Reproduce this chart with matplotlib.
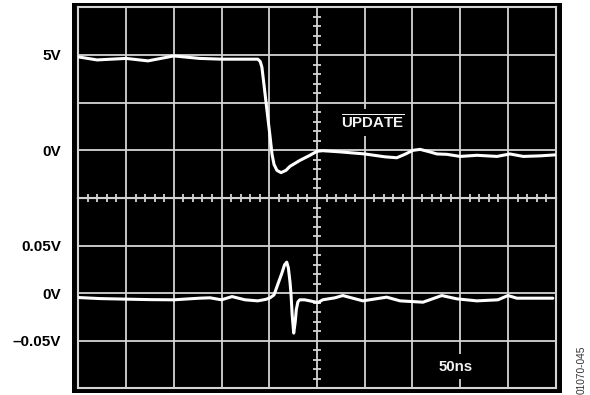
import matplotlib
matplotlib.use("Agg")
import matplotlib.pyplot as plt
from matplotlib.patches import Rectangle
from matplotlib.ticker import FixedLocator, FuncFormatter

plt.rcParams['font.family'] = ['Liberation Sans', 'DejaVu Sans']
plt.rcParams['mathtext.fontset'] = 'custom'
plt.rcParams['mathtext.bf'] = 'Liberation Sans:bold'
plt.rcParams['mathtext.rm'] = 'Liberation Sans'

# Channel 1: UPDATE pin (2.5 V/div), time in ns (50 ns/div)
update_t = [0, 19.6, 50, 73, 100, 127, 150, 169, 188, 190.5, 192.3, 194.4, 196.5,
            198.7, 200.8, 202.9, 205, 208, 212.3, 217.5, 221.7, 232, 242.6, 250,
            256, 274, 300, 321, 333.5, 342, 350.5, 358, 368, 375.6, 386, 400,
            417.5, 438.5, 452, 466, 483.5, 499]
update_v = [4.90, 4.74, 4.82, 4.69, 4.95, 4.82, 4.78, 4.78, 4.78, 4.66, 4.36, 3.47, 2.57,
            1.63, 0.74, -0.21, -0.74, -1.05, -1.17, -1.05, -0.84, -0.53, -0.26, -0.05,
            -0.02, -0.08, -0.19, -0.34, -0.39, -0.21, 0.0, 0.05, -0.08, -0.19, -0.21, -0.32,
            -0.26, -0.32, -0.19, -0.32, -0.29, -0.24]

# Channel 2: output glitch (0.05 V/div)
out_t = [0, 22.7, 50, 75, 100, 127, 138, 150, 161, 174.6, 188, 196.5, 200.8, 205,
         209.5, 213.3, 216, 218.3, 220, 221.7, 222.7, 224, 225.6, 227.2, 228.3, 230,
         232, 237, 242.6, 251, 256, 268.8, 277, 298, 323, 337, 361, 380.7, 396.5,
         417.5, 439.5, 450, 459.3, 497]
out_v = [-0.0046, -0.0057, -0.0063, -0.0068, -0.0070, -0.0053, -0.0049, -0.0070,
         -0.0036, -0.0070, -0.0081, -0.0065, -0.0049, -0.0018, 0.0108, 0.0213, 0.0297,
         0.0326, 0.0266, 0.0119, 0.0003, -0.0228, -0.0420, -0.0301, -0.0175, -0.0091,
         -0.0070, -0.0070, -0.0081, -0.0099, -0.0070, -0.0049, -0.0025, -0.0081,
         -0.0042, -0.0081, -0.0095, -0.0025, -0.0060, -0.0081, -0.0070, -0.0025,
         -0.0053, -0.0053]

top_grid = [-2.5, 0, 2.5, 5, 7.5]
top_labels = {0: "0V", 5: "5V"}
bot_grid = [-0.1, -0.05, 0, 0.05, 0.1]
bot_labels = {-0.05: "–0.05V", 0: "0V", 0.05: "0.05V"}
time_grid = [0, 50, 100, 150, 200, 250, 300, 350, 400, 450, 500]

W, H = 590, 395
fig = plt.figure(figsize=(W / 100, H / 100), dpi=100)
fig.patch.set_facecolor('white')

# black screen behind the graticule
fig.add_artist(Rectangle((72 / W, 1 - 393 / H), 490 / W, 390 / H,
                         transform=fig.transFigure, facecolor='black',
                         edgecolor='none', zorder=0))

left, right = 78.3 / W, 555.7 / W
bottom, top = 1 - 388.3 / H, 1 - 7.3 / H
mid = 1 - 198 / H
ax2 = fig.add_axes([left, bottom, right - left, mid - bottom])
ax1 = fig.add_axes([left, mid, right - left, top - mid])
ax2.set_zorder(1)
ax1.set_zorder(2)

grid_color = '#d4d4d4'

for ax, grid, labels, lim in [(ax1, top_grid, top_labels, (-2.5, 7.5)),
                              (ax2, bot_grid, bot_labels, (-0.1, 0.1))]:
    ax.set_facecolor('black')
    ax.set_xlim(0, 500)
    ax.set_ylim(*lim)
    ax.xaxis.set_major_locator(FixedLocator(time_grid))
    ax.yaxis.set_major_locator(FixedLocator(grid))
    ax.yaxis.set_major_formatter(FuncFormatter(
        lambda v, p, labels=labels: next((s for k, s in labels.items() if abs(k - v) < 1e-9), "")))
    ax.tick_params(axis='x', length=0, labelbottom=False)
    ax.tick_params(axis='y', length=0, pad=12.5)
    for lab in ax.get_yticklabels():
        lab.set_fontsize(11)
        lab.set_fontweight('bold')
    ax.grid(True, color=grid_color, linewidth=1.3)
    for s in ax.spines.values():
        s.set_color(grid_color)
        s.set_linewidth(1.5)

# minor division ticks on the centre lines
minor_t = [t for t in range(0, 501, 10) if t % 50]
ax1.plot(minor_t, [-2.5] * len(minor_t), linestyle='none', marker='|',
         markersize=5.8, markeredgewidth=1.3, color=grid_color, clip_on=False, zorder=3)
minor_v1 = [v / 2 for v in range(-5, 16) if v % 5]
ax1.plot([250] * len(minor_v1), minor_v1, linestyle='none', marker='_',
         markersize=5.8, markeredgewidth=1.3, color=grid_color, zorder=3)
minor_v2 = [v / 100 for v in range(-10, 11) if v % 5]
ax2.plot([250] * len(minor_v2), minor_v2, linestyle='none', marker='_',
         markersize=5.8, markeredgewidth=1.3, color=grid_color, zorder=3)

# traces
ax1.plot(update_t, update_v, color='white', linewidth=2.2,
         solid_joinstyle='round', solid_capstyle='round', zorder=4)
ax2.plot(out_t, out_v, color='white', linewidth=2.2,
         solid_joinstyle='round', solid_capstyle='round', zorder=4)

ax1.text(308, 1.14, r'$\overline{\mathbf{UPDATE}}$', fontsize=10.8, color='#f2f2f2',
         ha='center', va='baseline', zorder=5,
         bbox=dict(facecolor='black', edgecolor='none', pad=3))
ax2.text(395, -0.0813, '50ns', fontsize=10.8, fontweight='bold', color='#f2f2f2',
         ha='center', va='baseline', zorder=5,
         bbox=dict(facecolor='black', edgecolor='none', pad=4))

fig.text(581.7 / W, 1 - 370 / H, '01070-045', rotation=90, fontsize=7.3,
         color='#333333', ha='center', va='center')

fig.savefig('out.png', dpi=100, facecolor='white')
